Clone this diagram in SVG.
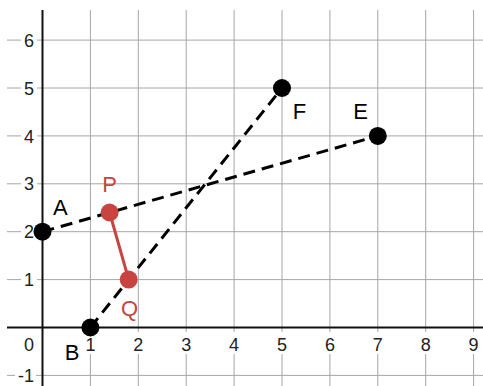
<svg xmlns="http://www.w3.org/2000/svg" width="483" height="386" viewBox="0 0 483 386">
<style>
.grid{stroke:#a6a6a6;stroke-width:1;fill:none}
.axis{stroke:#111;stroke-width:2;fill:none}
.tick{font-family:"Liberation Sans",Arial,sans-serif;font-size:18px;fill:#222}
.bg{fill:#fff}
.dash{stroke:#000;stroke-width:3;stroke-dasharray:12 7;fill:none}
.seg{stroke:#c74440;stroke-width:3;fill:none}
.pt{fill:#000}
.rpt{fill:#c74440}
.lbl{font-family:"Liberation Sans",Arial,sans-serif;font-size:22px;text-anchor:middle;fill:#000}
.rlbl{fill:#c74440}
</style>
<rect width="483" height="386" fill="#fff"/>
<g id="grid">
<path class="grid" d="M90.4 10V386M138.3 10V386M186.2 10V386M234.1 10V386M282 10V386M329.9 10V386M377.8 10V386M425.7 10V386M473.6 10V386"/>
<path class="grid" d="M7 40.1H483M7 88H483M7 135.9H483M7 183.8H483M7 231.7H483M7 279.6H483M7 375.4H483"/>
</g>
<g id="axes">
<path class="axis" d="M42.5 10V386M7 327.5H483"/>
</g>
<g id="ticks">
<rect class="bg" x="21" y="31" width="16" height="18"/>
<rect class="bg" x="21" y="79" width="16" height="18"/>
<rect class="bg" x="21" y="127" width="16" height="18"/>
<rect class="bg" x="21" y="175" width="16" height="18"/>
<rect class="bg" x="21" y="223" width="16" height="18"/>
<rect class="bg" x="21" y="271" width="16" height="18"/>
<rect class="bg" x="15" y="367" width="21" height="18"/>
<g text-anchor="end" class="tick">
<text class="tick" x="34" y="46.5">6</text>
<text class="tick" x="34" y="94.5">5</text>
<text class="tick" x="34" y="142.5">4</text>
<text class="tick" x="34" y="190">3</text>
<text class="tick" x="34" y="238">2</text>
<text class="tick" x="34" y="286">1</text>
<text class="tick" x="34" y="381.5">-1</text>
</g>
<rect class="bg" x="83.4" y="332" width="14" height="22"/>
<rect class="bg" x="131.3" y="332" width="14" height="22"/>
<rect class="bg" x="179.2" y="332" width="14" height="22"/>
<rect class="bg" x="227.1" y="332" width="14" height="22"/>
<rect class="bg" x="275" y="332" width="14" height="22"/>
<rect class="bg" x="322.9" y="332" width="14" height="22"/>
<rect class="bg" x="370.8" y="332" width="14" height="22"/>
<rect class="bg" x="418.7" y="332" width="14" height="22"/>
<rect class="bg" x="466.6" y="332" width="14" height="22"/>
<g text-anchor="middle">
<text class="tick" x="29" y="351">0</text>
<text class="tick" x="90.4" y="351">1</text>
<text class="tick" x="138.3" y="351">2</text>
<text class="tick" x="186.2" y="351">3</text>
<text class="tick" x="234.1" y="351">4</text>
<text class="tick" x="282" y="351">5</text>
<text class="tick" x="329.9" y="351">6</text>
<text class="tick" x="377.8" y="351">7</text>
<text class="tick" x="425.7" y="351">8</text>
<text class="tick" x="473.6" y="351">9</text>
</g>
</g>
<g id="connectors">
<line id="AE" class="dash" x1="42.5" y1="231.7" x2="377.8" y2="135.9"/>
<line id="BF" class="dash" x1="90.4" y1="327.5" x2="282" y2="88"/>
<line id="PQ" class="seg" x1="109.6" y1="212.5" x2="128.7" y2="279.6"/>
</g>
<g id="A"><circle class="pt" cx="42.5" cy="231.7" r="9"/><text class="lbl" x="60.3" y="215">A</text></g>
<g id="B"><circle class="pt" cx="90.4" cy="327.5" r="9"/><text class="lbl" x="72" y="360">B</text></g>
<g id="F"><circle class="pt" cx="282" cy="88" r="9"/><text class="lbl" x="299.5" y="119">F</text></g>
<g id="E"><circle class="pt" cx="377.8" cy="135.9" r="9"/><text class="lbl" x="360.5" y="119">E</text></g>
<g id="P"><circle class="rpt" cx="109.6" cy="212.5" r="9"/><text class="lbl rlbl" x="109.5" y="191.7">P</text></g>
<g id="Q"><circle class="rpt" cx="128.7" cy="279.6" r="9"/><text class="lbl rlbl" x="129.5" y="315.5">Q</text></g>
</svg>
